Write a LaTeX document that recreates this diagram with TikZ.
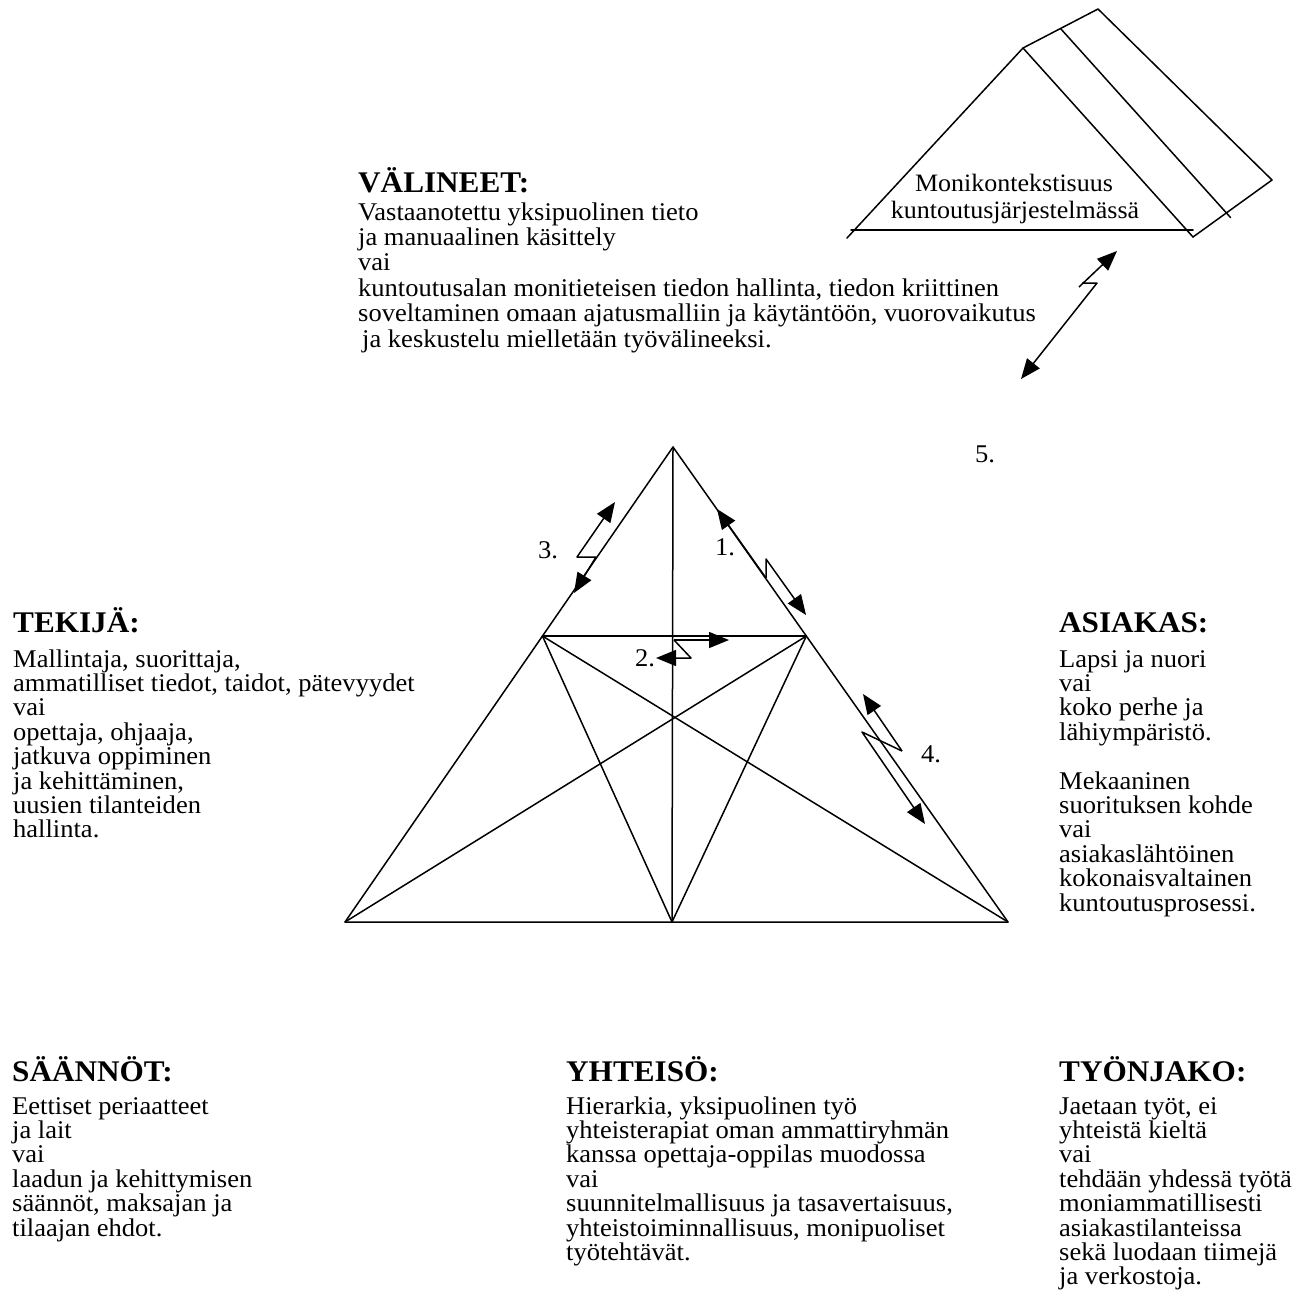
\documentclass[tikz,border=0pt]{standalone}
\usepackage{fontspec}
\setmainfont{Liberation Serif}[FakeStretch=1.04]
\usetikzlibrary{arrows.meta,calc}
\begin{document}
\begin{tikzpicture}[x=1pt,y=-1pt,
  edge/.style={line width=1.5pt,line cap=round,line join=round},
  arr/.style={line width=1.5pt,line join=round,-{Triangle[length=20pt,width=16pt]}},
  body/.style={font=\fontsize{25.5}{26}\selectfont,inner sep=0pt,anchor=base west},
  head/.style={font=\fontsize{30}{30}\selectfont\bfseries,inner sep=0pt,anchor=base west},
  num/.style={font=\fontsize{25.5}{26}\selectfont,inner sep=0pt,anchor=base},
  ctext/.style={font=\fontsize{25}{26}\selectfont,inner sep=0pt,anchor=base}]
\fill[white] (0,0) rectangle (1308,1314);
\useasboundingbox (0,0) rectangle (1308,1314);
\def\L{24.4}
% ---------- main triangle ----------
\coordinate (A) at (673,447);
\coordinate (BL) at (345,922);
\coordinate (BR) at (1008,922);
\coordinate (BM) at (672,922);
\coordinate (ML) at ($(A)!0.398!(BL)$);
\coordinate (MR) at ($(A)!0.398!(BR)$);
\draw[edge] (A) -- (BL) -- (BR) -- cycle;
\draw[edge] (A) -- (BM);
\draw[edge] (ML) -- (MR);
\draw[edge] (ML) -- (BM) -- (MR);
\draw[edge] (ML) -- (BR);
\draw[edge] (MR) -- (BL);
% ---------- arrows ----------
% 1
\coordinate (a1tip) at (717,509);
\coordinate (a1p) at (766,578);
\coordinate (a1q) at (766,559);
\coordinate (a1tipb) at (806,615);
\draw[arr] (a1p) -- (a1tip);
\draw[arr] (a1p) -- (a1q) -- (a1tipb);
% 3
\coordinate (a3tip) at (615,502);
\coordinate (a3h) at (577,557);
\coordinate (a3e) at (596,557);
\coordinate (a3tipb) at (574,593);
\draw[arr] (a3e) -- (a3h) -- (a3tip);
\draw[arr] (a3e) -- (a3tipb);
% 2
\coordinate (a2s) at (674,640);
\coordinate (a2tip) at (729,640);
\coordinate (a2d) at (691,658);
\coordinate (a2tipb) at (656,658);
\draw[arr] (a2s) -- (a2tip);
\draw[arr] (a2s) -- (a2d) -- (a2tipb);
% 4
\coordinate (a4tip) at (863,694);
\coordinate (a4u) at (902,751);
\coordinate (a4l) at (862,732);
\coordinate (a4tipb) at (925,824);
\draw[arr] (a4u) -- (a4tip);
\draw[arr] (a4u) -- (a4l) -- (a4tipb);
% 5
\coordinate (a5tip) at (1117,251);
\coordinate (a5s) at (1079,287);
\coordinate (a5h) at (1082,283);
\coordinate (a5k) at (1097,283);
\coordinate (a5tipb) at (1021,379);
\draw[arr] (a5s) -- (a5tip);
\draw[arr] (a5h) -- (a5k) -- (a5tipb);
% numbers
\node[num] (n1) at (725,555) {1.};
\node[num] (n2) at (645,666) {2.};
\node[num] (n3) at (548,558) {3.};
\node[num] (n4) at (931,762) {4.};
\node[num] (n5) at (985,462) {5.};
% ---------- prism ----------
\coordinate (F) at (1023,48);
\coordinate (Bk) at (1098,9);
\coordinate (PL) at (847,238);
\coordinate (FR) at (1193,237);
\coordinate (PR) at (1272,180);
\coordinate (BsL) at (851,230);
\coordinate (BsR) at (1193,230);
\coordinate (M1) at ($(F)!0.5!(Bk)$);
\coordinate (M2) at ($(M1)+(170,189)$);
\draw[edge] (PL) -- (F) -- (FR);
\draw[edge] (F) -- (Bk) -- (PR) -- (FR);
\draw[edge] (BsL) -- (BsR);
\draw[edge] (M1) -- (M2);
\node[ctext] (pm1) at (1014,191) {Monikontekstisuus};
\node[ctext] (pm2) at (1015,218) {kuntoutusjärjestelmässä};
% ---------- text blocks ----------
\node[head] (hval) at (358,192) {VÄLINEET:};
\foreach \t [count=\i from 0] in {{Vastaanotettu yksipuolinen tieto},{ja manuaalinen käsittely},{vai},{kuntoutusalan monitieteisen tiedon hallinta, tiedon kriittinen},{soveltaminen omaan ajatusmalliin ja käytäntöön, vuorovaikutus}}
  \node[body] (val\i) at (358,{220+25.4*\i}) {\t};
\node[body] (val5) at (362,{220+25.4*5}) {ja keskustelu mielletään työvälineeksi.};

\node[head] (htek) at (13,632) {TEKIJÄ:};
\foreach \t [count=\i from 0] in {{Mallintaja, suorittaja,},{ammatilliset tiedot, taidot, pätevyydet},{vai},{opettaja, ohjaaja,},{jatkuva oppiminen},{ja kehittäminen,},{uusien tilanteiden},{hallinta.}}
  \node[body] (tek\i) at (13,{667+\L*\i}) {\t};

\node[head] (hasi) at (1059,632) {ASIAKAS:};
\foreach \t [count=\i from 0] in {{Lapsi ja nuori},{vai},{koko perhe ja},{lähiympäristö.}}
  \node[body] (asa\i) at (1059,{667+\L*\i}) {\t};
\foreach \t [count=\i from 5] in {{Mekaaninen},{suorituksen kohde},{vai},{asiakaslähtöinen},{kokonaisvaltainen},{kuntoutusprosessi.}}
  \node[body] (asb\i) at (1059,{667+\L*\i}) {\t};

\node[head] (hsaa) at (12,1081) {SÄÄNNÖT:};
\foreach \t [count=\i from 0] in {{Eettiset periaatteet},{ja lait},{vai},{laadun ja kehittymisen},{säännöt, maksajan ja},{tilaajan ehdot.}}
  \node[body] (saa\i) at (12,{1114+\L*\i}) {\t};

\node[head] (hyht) at (566,1081) {YHTEISÖ:};
\foreach \t [count=\i from 0] in {{Hierarkia, yksipuolinen työ},{yhteisterapiat oman ammattiryhmän},{kanssa opettaja-oppilas muodossa},{vai},{suunnitelmallisuus ja tasavertaisuus,},{yhteistoiminnallisuus, monipuoliset},{työtehtävät.}}
  \node[body] (yht\i) at (566,{1114+\L*\i}) {\t};

\node[head] (htyo) at (1059,1081) {TYÖNJAKO:};
\foreach \t [count=\i from 0] in {{Jaetaan työt, ei},{yhteistä kieltä},{vai},{tehdään yhdessä työtä},{moniammatillisesti},{asiakastilanteissa},{sekä luodaan tiimejä},{ja verkostoja.}}
  \node[body] (tyo\i) at (1059,{1114+\L*\i}) {\t};
\end{tikzpicture}
\end{document}
